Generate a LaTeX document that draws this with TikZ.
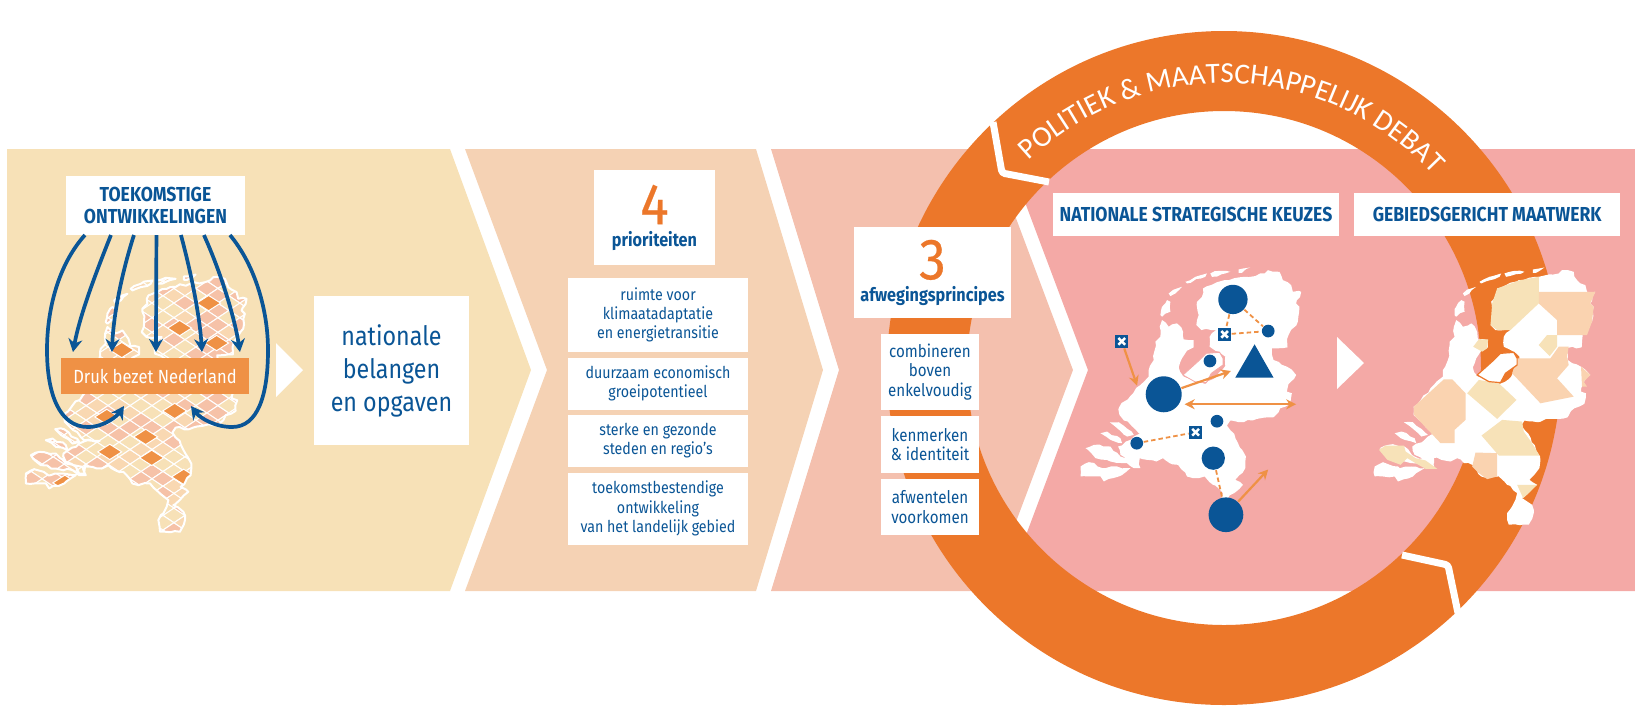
\documentclass[tikz,border=0pt]{standalone}
\usepackage{fontspec}
\setmainfont[FakeStretch=0.87]{Fira Sans}
\newfontfamily\numfont[FakeBold=0.4,FakeStretch=0.92]{Fira Sans}
\newfontfamily\ringfont{Carlito}
\usepackage{xcolor}
\usetikzlibrary{arrows.meta, positioning, calc, decorations.text, decorations.pathmorphing}
\definecolor{rijksblue}{HTML}{0A5596}
\definecolor{ringorange}{HTML}{EC772A}
\definecolor{flowbrown}{HTML}{EF9145}
\definecolor{bandone}{HTML}{F7E1B7}
\definecolor{bandtwo}{HTML}{F5D2B4}
\definecolor{bandthree}{HTML}{F4C0AE}
\definecolor{bandfour}{HTML}{F4A9A6}
\definecolor{tilesalmon}{HTML}{F6C2A8}
\definecolor{tilepale}{HTML}{F9D8B2}
\definecolor{regionpale}{HTML}{F7E2B8}
\definecolor{regionpeach}{HTML}{FAD3B0}

\tikzset{
  nlland/.style={insert path={(395,180) -- (415,200) -- (440,190) -- (458,215) -- (460,238) -- (490,240) -- (490,262) -- (470,272) -- (455,295) -- (445,322) -- (460,350) -- (525,372) -- (560,350) -- (585,318) -- (585,290) -- (568,275) -- (538,260) -- (538,230) -- (558,210) -- (513,210) -- (498,195) -- (505,165) -- (500,125) -- (515,110) -- (518,85) -- (583,60) -- (643,50) -- (703,40) -- (713,30) -- (748,35) -- (758,60) -- (783,75) -- (788,95) -- (813,95) -- (798,130) -- (808,140) -- (803,185) -- (775,225) -- (772,262) -- (725,265) -- (730,300) -- (770,320) -- (798,345) -- (775,372) -- (770,395) -- (785,400) -- (780,432) -- (750,445) -- (730,472) -- (680,477) -- (640,487) -- (600,482) -- (590,497) -- (612,522) -- (622,547) -- (647,590) -- (645,625) -- (615,660) -- (638,675) -- (612,700) -- (593,715) -- (623,735) -- (628,760) -- (613,795) -- (553,795) -- (548,760) -- (563,740) -- (573,720) -- (578,700) -- (548,675) -- (523,650) -- (488,655) -- (470,650) -- (443,615) -- (418,610) -- (398,595) -- (378,605) -- (350,600) -- (328,595) -- (325,620) -- (310,620) -- (300,600) -- (270,585) -- (263,560) -- (300,540) -- (310,530) -- (335,520) -- (372,522) -- (325,520) -- (267,465) -- (267,440) -- (355,350) -- (355,330) -- (370,300) -- (375,245) -- (390,230) -- (388,200) -- cycle}},
  nlislands/.style={insert path={(390,165) -- (395,140) -- (410,120) -- (420,125) -- (420,155) -- (395,170) -- cycle (415,100) -- (440,85) -- (455,80) -- (435,100) -- (420,108) -- cycle (465,65) -- (495,50) -- (530,40) -- (525,50) -- (470,70) -- cycle (540,40) -- (570,32) -- (600,35) -- (575,42) -- (545,50) -- cycle (625,28) -- (660,22) -- (635,38) -- (625,38) -- cycle (238,487) -- (265,487) -- (310,525) -- (290,530) -- cycle (210,520) -- (230,515) -- (270,535) -- (275,550) -- (240,540) -- cycle (165,565) -- (190,555) -- (240,560) -- (270,590) -- (320,600) -- (330,625) -- (310,625) -- (290,610) -- (240,605) -- (195,595) -- cycle (150,620) -- (175,607) -- (225,625) -- (260,620) -- (300,625) -- (265,650) -- (220,665) -- (210,650) -- (175,650) -- (150,650) -- cycle}},
  nlflevo/.style={insert path={(458,345) -- (508,300) -- (528,280) -- (568,277) -- (578,295) -- (578,315) -- (543,340) -- (528,368) -- (493,365) -- cycle}},
  map at/.style 2 args={shift={(#1cm,-#2cm)}, x=0.003333cm, y=-0.003333cm},
  rough/.style={decorate, decoration={random steps, segment length=0.05cm, amplitude=0.012cm}},
}

\begin{document}
\begin{tikzpicture}[
  x=0.01cm, y=-0.01cm,
  box/.style={rectangle, fill=white, text=rijksblue, align=center, inner sep=0pt, outer sep=0pt},
  prio/.style={box, minimum width=1.8cm, font=\fontsize{4.65}{5.5}\selectfont},
  principe/.style={box, minimum width=0.98cm, font=\fontsize{4.95}{5.5}\selectfont},
  head/.style={box, font=\fontsize{5.3}{6.2}\selectfont\bfseries},
  title/.style={head, font=\fontsize{5.75}{6.2}\selectfont\bfseries},
  fanarrow/.style={-{Stealth[length=0.13cm, width=0.14cm]}, line width=0.037cm, rijksblue},
  flow/.style={-{Stealth[length=0.1cm, width=0.1cm]}, line width=0.022cm, flowbrown},
  flowboth/.style={flow, {Stealth[length=0.1cm, width=0.1cm]}-{Stealth[length=0.1cm, width=0.1cm]}},
  link/.style={flowbrown, line width=0.018cm, dash pattern=on 0.045cm off 0.03cm},
  hub/.style={circle, fill=rijksblue, inner sep=0pt, minimum size=#1},
  xbox/.style={rectangle, fill=rijksblue, inner sep=0pt, minimum size=0.127cm, path picture={
    \draw[white, line width=0.025cm] ([shift={(0.03cm,0.03cm)}]path picture bounding box.south west) -- ([shift={(-0.03cm,-0.03cm)}]path picture bounding box.north east);
    \draw[white, line width=0.025cm] ([shift={(0.03cm,-0.03cm)}]path picture bounding box.north west) -- ([shift={(-0.03cm,0.03cm)}]path picture bounding box.south east);}},
]
\useasboundingbox (0,0) rectangle (1635,708);

% bands
\fill[bandone] (7,149) -- (450,149) -- (531,370) -- (450,591) -- (7,591) -- cycle;
\fill[bandtwo] (465,149) -- (756,149) -- (823,370) -- (756,591) -- (465,591) -- (547,370) -- cycle;
\fill[bandthree] (771,149) -- (990,149) -- (1073,370) -- (990,591) -- (771,591) -- (839,370) -- cycle;
\fill[bandfour] (1005,149) -- (1635,149) -- (1635,591) -- (1005,591) -- (1088,370) -- cycle;

% ring
\fill[ringorange, even odd rule] (1224,368) circle [radius=337] (1224,368) circle [radius=257];
\draw[white, line width=0.07cm, rounded corners=0.03cm] (993,122) -- (1002,173) -- (1049,182);
\draw[white, line width=0.07cm, rounded corners=0.03cm] (1402,555) -- (1448,565) -- (1458,613);
\path[decorate, decoration={text along path, text align=center,
    text={|\ringfont\fontsize{8.3}{10}\selectfont\color{white}|POLITIEK {\&} MAATSCHAPPELIJK DEBAT}}]
  (1224,368) ++(-134:285) arc (-134:-42:285);

% first map
\begin{scope}[map at={-0.24}{2.67}]
  \pgfmathsetseed{7}
  \fill[bandone, rough, nlland, nlislands];
  \begin{scope}
    \pgfmathsetseed{7}
    \clip[rough, nlland, nlislands];
    \foreach \i in {0,...,11} \foreach \j in {0,...,36} {
      \pgfmathtruncatemacro\tone{mod(\i*7+\j*5+\i*\j,7)}
      \pgfmathsetmacro\tx{100+\i*66+mod(\j,2)*33}
      \pgfmathsetmacro\ty{20+\j*22}
      \ifcase\tone\def\tilecol{tilesalmon}\or\def\tilecol{tilepale}\or\def\tilecol{bandone}\or\def\tilecol{tilesalmon}\or\def\tilecol{bandone}\or\def\tilecol{tilepale}\else\def\tilecol{bandone}\fi
      \filldraw[fill=\tilecol, draw=white, line width=0.01cm] (\tx-33,\ty) -- (\tx,\ty-22) -- (\tx+33,\ty) -- (\tx,\ty+22) -- cycle;
    }
    \foreach \tx/\ty in {612/183, 699/108, 438/249, 510/510, 402/555, 528/573, 597/432, 267/648, 624/630, 393/450, 723/228}
      \filldraw[fill=flowbrown, draw=white, line width=0.01cm] (\tx-36,\ty) -- (\tx,\ty-23) -- (\tx+36,\ty) -- (\tx,\ty+23) -- cycle;
  \end{scope}
  \pgfmathsetseed{7}
  \draw[white, line width=0.02cm, line join=round, rough, nlland, nlislands];
\end{scope}

% left column
\node[title, minimum width=1.79cm, minimum height=0.59cm] (toekomst) at (155.5,205.5) {TOEKOMSTIGE\\ONTWIKKELINGEN};
\node[rectangle, fill=flowbrown, text=white, inner sep=0pt, outer sep=0pt, minimum width=1.88cm, minimum height=0.36cm,
      font=\fontsize{5.4}{6}\selectfont] (druk) at (155,376) {Druk bezet Nederland};
\node[box, minimum width=1.55cm, minimum height=1.49cm, font=\fontsize{7.6}{9.4}\selectfont] (opgaven) at (391.5,370.5) {nationale\\belangen\\en opgaven};
\fill[white] (276,343) -- (303,370) -- (276,397) -- cycle;

\foreach \k/\dx in {1/19, 2/45, 3/68, 4/90.5, 5/115, 6/138, 7/164}
  \coordinate (fan\k) at ($(toekomst.south west)+(\dx,0)$);
\foreach \k/\dx in {2/12, 3/51, 4/95, 5/141, 6/179}
  \coordinate (druk\k) at ($(druk.north west)+(\dx,-6)$);
\coordinate (drukleft) at ($(druk.south west)+(63,12)$);
\coordinate (drukright) at ($(druk.south west)+(130,12)$);

\draw[fanarrow] (fan1) .. controls (58,265) and (47,310) .. (47,350) .. controls (47,395) and (60,427) .. (88,427) .. controls (105,427) and (118,415) .. (drukleft);
\draw[fanarrow] (fan2) .. controls (95,275) and (80,315) .. (druk2);
\draw[fanarrow] (fan3) .. controls (118,285) and (113,325) .. (druk3);
\draw[fanarrow] (fan4) -- (druk4);
\draw[fanarrow] (fan5) .. controls (193,280) and (200,320) .. (druk5);
\draw[fanarrow] (fan6) .. controls (222,275) and (235,320) .. (druk6);
\draw[fanarrow] (fan7) .. controls (255,265) and (268,310) .. (268,350) .. controls (268,395) and (258,427) .. (232,427) .. controls (215,427) and (200,418) .. (drukright);

% priorities
\node[head, minimum width=1.21cm, minimum height=0.95cm] (vier) at (654.5,217.5) {{\numfont\mdseries\fontsize{16.5}{15}\selectfont\color{ringorange}4}\\prioriteiten};
\node[prio, minimum height=0.73cm] (ruimte) at (658,315) {ruimte voor\\klimaatadaptatie\\en energietransitie};
\node[prio, minimum height=0.52cm, below=0.06cm of ruimte] (groei) {duurzaam economisch\\groeipotentieel};
\node[prio, minimum height=0.52cm, below=0.05cm of groei] (steden) {sterke en gezonde\\steden en regio’s};
\node[prio, minimum height=0.72cm, below=0.06cm of steden] (landelijk) {toekomstbestendige\\ontwikkeling\\van het landelijk gebied};

% principles
\node[head, minimum width=1.57cm, minimum height=0.91cm] (drie) at (932.5,272.5) {{\numfont\mdseries\fontsize{16.5}{15}\selectfont\color{ringorange}3}\\afwegingsprincipes};
\node[principe, minimum height=0.76cm] (combineren) at (930,372) {combineren\\boven\\enkelvoudig};
\node[principe, minimum height=0.57cm, below=0.06cm of combineren] (kenmerken) {kenmerken\\\& identiteit};
\node[principe, minimum height=0.56cm, below=0.06cm of kenmerken] (afwentelen) {afwentelen\\voorkomen};

% right titles
\node[title, minimum width=2.86cm, minimum height=0.43cm] (keuzes) at (1196,214.5) {NATIONALE STRATEGISCHE KEUZES};
\node[title, minimum width=2.66cm, minimum height=0.43cm, right=0.15cm of keuzes] (maatwerk) {GEBIEDSGERICHT MAATWERK};
\fill[white] (1337,337) -- (1364,363) -- (1337,389) -- cycle;

% second map
\begin{scope}[map at={10.30}{2.60}]
  \fill[white, rough, nlland, nlislands];
  \filldraw[fill=white, draw=bandfour, line width=0.008cm, nlflevo];
  \fill[rijksblue] (673,253) -- (730,353) -- (615,353) -- cycle;
  \node[hub=0.293cm] (assen) at (608,118) {};
  \node[hub=0.127cm] (emmen) at (714,213) {};
  \node[hub=0.127cm] (almere) at (539,303) {};
  \node[hub=0.36cm] (randstad) at (400,403) {};
  \node[hub=0.127cm] (breda) at (560,484) {};
  \node[hub=0.127cm] (haven) at (319,550) {};
  \node[hub=0.233cm] (eindhoven) at (549,595) {};
  \node[hub=0.347cm] (limburg) at (587,765) {};
  \node[xbox] (zee) at (274,244) {};
  \node[xbox] (noord) at (583,223) {};
  \node[xbox] (zuid) at (496,517) {};
  \coordinate (zeeend) at (320,377);
  \coordinate (oostend) at (602,333);
  \coordinate (westpunt) at (463,433);
  \coordinate (oostpunt) at (798,433);
  \coordinate (limend) at (714,629);
  \draw[link] (assen) -- (noord);
  \draw[link] (assen) -- (emmen);
  \draw[link] (noord) -- (emmen);
  \draw[link] (haven) -- (zuid);
  \draw[link] (eindhoven) -- (limburg);
  \draw[flow] (zee) -- (zeeend);
  \draw[flow] (randstad) -- (oostend);
  \draw[flowboth] (westpunt) -- (oostpunt);
  \draw[flow] (limburg) -- (limend);
\end{scope}

% third map
\begin{scope}[map at={13.24}{2.60}]
  \fill[white, rough, nlland, nlislands];
  \fill[regionpale] (503,130) -- (518,85) -- (588,60) -- (643,50) -- (643,130) -- (558,210) -- (518,210) -- (498,195) -- cycle;
  \fill[regionpale] (446,260) -- (463,238) -- (491,238) -- (488,265) -- (473,275) -- cycle;
  \fill[regionpale] (643,255) -- (668,225) -- (698,225) -- (698,260) -- (676,288) -- cycle;
  \fill[regionpale] (428,400) -- (463,360) -- (523,370) -- (576,420) -- (518,477) -- cycle;
  \fill[regionpale] (471,527) -- (533,480) -- (593,485) -- (598,515) -- (623,550) -- (645,587) -- (523,587) -- cycle;
  \fill[regionpale] (163,570) -- (183,557) -- (238,557) -- (243,575) -- (273,595) -- (303,602) -- (338,627) -- (303,627) -- (273,610) -- (248,595) -- (228,615) -- (188,600) -- cycle;
  \fill[regionpale] (578,675) -- (638,675) -- (618,695) -- (596,715) -- cycle;
  \fill[regionpeach] (643,95) -- (813,95) -- (798,130) -- (808,140) -- (803,185) -- (788,225) -- (698,225) -- (698,180) -- (643,130) -- cycle;
  \fill[regionpeach] (563,340) -- (578,295) -- (678,295) -- (703,260) -- (733,260) -- (728,290) -- (733,315) -- (698,355) -- (748,410) -- (648,430) -- cycle;
  \fill[regionpeach] (268,440) -- (358,358) -- (383,358) -- (423,400) -- (423,480) -- (390,510) -- (390,550) -- (348,550) -- (268,465) -- cycle;
  \fill[regionpeach] (453,578) -- (518,580) -- (518,650) -- (488,658) -- (463,640) -- (443,620) -- cycle;
  \fill[regionpeach] (770,320) -- (798,345) -- (778,365) -- (788,380) -- (773,380) -- cycle;
  \filldraw[fill=white, draw=ringorange, line width=0.012cm, nlflevo];
\end{scope}
\end{tikzpicture}
\end{document}
